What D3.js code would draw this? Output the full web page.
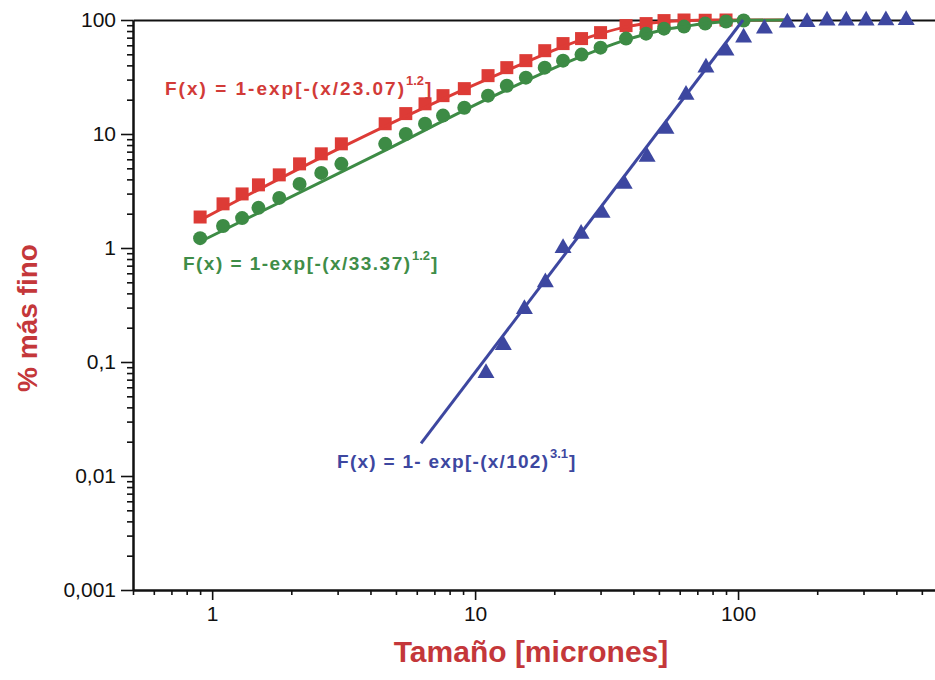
<!DOCTYPE html>
<html>
<head>
<meta charset="utf-8">
<script src="https://cdn.jsdelivr.net/npm/d3@7"></script>
<style>
body { margin: 0; background: #fff; }
text { font-family: "Liberation Sans", Arial, sans-serif; }
</style>
</head>
<body>
<script>
// tick labels
var xTickValues = [1, 10, 100];
var xTickLabels = ["1", "10", "100"];
var yTickValues = [0.001, 0.01, 0.1, 1, 10, 100];
var yTickLabels = ["0,001", "0,01", "0,1", "1", "10", "100"];

// red squares (x/23.07)
var redX = [0.9, 1.1, 1.3, 1.5, 1.8, 2.15, 2.6, 3.1, 4.55, 5.45, 6.45, 7.55, 9.1, 11.2, 13.2, 15.6, 18.4, 21.6, 25.4, 30, 37.5, 44.7, 52.3, 62.3, 75, 90];
var redY = [1.87, 2.44, 2.98, 3.58, 4.38, 5.47, 6.7, 8.2, 12.3, 15.1, 18.4, 21.7, 25, 32.5, 38.2, 44, 53.8, 62.1, 68.7, 77.5, 89.3, 93, 98.8, 100, 99.5, 100];
var redFitX = [0.89, 3.09, 11.2, 30, 37.5, 45, 55, 70, 90, 150];
var redFitY = [1.73, 7.6, 30.5, 76, 87, 93, 97.5, 99.5, 100, 100];

// green circles (x/33.37)
var greenX = [0.9, 1.1, 1.3, 1.5, 1.8, 2.15, 2.6, 3.1, 4.55, 5.45, 6.45, 7.55, 9.1, 11.2, 13.2, 15.6, 18.4, 21.6, 25.4, 30, 37.5, 44.7, 52.3, 62.3, 75, 90, 105];
var greenY = [1.22, 1.56, 1.83, 2.25, 2.75, 3.65, 4.56, 5.47, 8.2, 10, 12.3, 14.5, 17, 21.7, 26.5, 31.2, 38.2, 44, 49.7, 57.2, 68.7, 75.9, 84, 87.5, 93, 97, 99];
var greenFitX = [0.91, 4.67, 11.2, 25.4, 37.5, 44.7, 52.3, 62.3, 75, 90, 105, 150];
var greenFitY = [1.15, 7.4, 20.4, 48, 67, 75, 82, 87.5, 93, 97, 99.5, 100];

// blue triangles (x/102)
var blueX = [11, 12.8, 15.4, 18.5, 21.6, 25.3, 30.4, 36.9, 45.1, 53.2, 63.4, 75.5, 90, 105, 126, 154, 183, 218, 258, 307, 365, 436];
var blueY = [0.08, 0.141, 0.291, 0.5, 1, 1.33, 2.03, 3.65, 6.3, 11.1, 22.1, 38.2, 53.8, 70, 84, 95, 96, 99, 99, 99, 99.5, 100];
var blueFitX = [6.23, 104.5];
var blueFitY = [0.0193, 100];

var W = 935, H = 680;
var svg = d3.select("body").append("svg")
    .attr("width", W).attr("height", H);

var x = d3.scaleLog().domain([0.5, 1000]).range([133, 1001]);
var y = d3.scaleLog().domain([0.001, 100]).range([590, 20]);

function pts(xs, ys) { return xs.map(function(d, i) { return [d, ys[i]]; }); }

var line = d3.line()
    .x(function(d) { return x(d[0]); })
    .y(function(d) { return y(d[1]); })
    .curve(d3.curveMonotoneX);

// axes
var xMinor = x.ticks().filter(function(d) { return xTickValues.indexOf(d) < 0; });
var yMinor = y.ticks().filter(function(d) { return yTickValues.map(String).indexOf(String(d)) < 0; });

svg.append("g").attr("transform", "translate(0,590)")
    .call(d3.axisBottom(x).tickValues(xTickValues).tickSize(10).tickSizeOuter(0).tickPadding(6)
        .tickFormat(function(d, i) { return xTickLabels[i]; }));
svg.append("g").attr("transform", "translate(0,590)")
    .call(d3.axisBottom(x).tickValues(xMinor).tickSize(5).tickSizeOuter(0).tickFormat(""));

svg.append("g").attr("transform", "translate(133,0)")
    .call(d3.axisLeft(y).tickValues(yTickValues).tickSize(12).tickSizeOuter(0).tickPadding(5)
        .tickFormat(function(d, i) { return yTickLabels[i]; }));
svg.append("g").attr("transform", "translate(133,0)")
    .call(d3.axisLeft(y).tickValues(yMinor).tickSize(6).tickSizeOuter(0).tickFormat(""));

svg.append("g").attr("transform", "translate(0,20)")
    .call(d3.axisTop(x).tickValues([]).tickSizeOuter(0));

svg.selectAll(".domain").attr("stroke", "#111").attr("stroke-width", 2);
svg.selectAll(".tick line").attr("stroke", "#111").attr("stroke-width", 1.6);
svg.selectAll(".tick text").attr("font-size", 21).attr("fill", "#111")
    .style("font-family", "'Liberation Sans', Arial, sans-serif");

// series
var redC = "#dd3b36", greenC = "#3d8b45", blueC = "#3d47a0";

svg.append("g").selectAll("rect").data(pts(redX, redY)).enter().append("rect")
    .attr("x", function(d) { return x(d[0]) - 6.5; })
    .attr("y", function(d) { return y(d[1]) - 6.5; })
    .attr("width", 13).attr("height", 13).attr("fill", redC);
svg.append("path").datum(pts(redFitX, redFitY)).attr("d", line)
    .attr("fill", "none").attr("stroke", redC).attr("stroke-width", 3);

svg.append("g").selectAll("circle").data(pts(greenX, greenY)).enter().append("circle")
    .attr("cx", function(d) { return x(d[0]); })
    .attr("cy", function(d) { return y(d[1]); })
    .attr("r", 7).attr("fill", greenC);
svg.append("path").datum(pts(greenFitX, greenFitY)).attr("d", line)
    .attr("fill", "none").attr("stroke", greenC).attr("stroke-width", 3);

var tri = d3.symbol().type(d3.symbolTriangle).size(125);
svg.append("g").selectAll("path").data(pts(blueX, blueY)).enter().append("path")
    .attr("d", tri)
    .attr("transform", function(d) { return "translate(" + x(d[0]) + "," + y(d[1]) + ")"; })
    .attr("fill", blueC);
svg.append("path").datum(pts(blueFitX, blueFitY)).attr("d", line)
    .attr("fill", "none").attr("stroke", blueC).attr("stroke-width", 3);

// formula labels
function formula(px, py, main, sup, len, color) {
    var g = svg.append("g").attr("fill", color).attr("font-weight", "bold");
    g.append("text").attr("x", px).attr("y", py).attr("font-size", 19)
        .attr("textLength", len).attr("lengthAdjust", "spacing").text(main);
    g.append("text").attr("x", px + len + 2).attr("y", py - 10).attr("font-size", 13).text(sup);
    g.append("text").attr("x", px + len + 21).attr("y", py).attr("font-size", 19).text("]");
}
formula(165, 95, "F(x) = 1-exp[-(x/23.07)", "1.2", 239, "#d23b38");
formula(183, 270, "F(x) = 1-exp[-(x/33.37)", "1.2", 227, "#3f8d48");
formula(337, 468, "F(x) = 1- exp[-(x/102)", "3.1", 211, "#3d47a0");

// axis titles
svg.append("text")
    .attr("transform", "translate(37,318) rotate(-90)")
    .attr("text-anchor", "middle").attr("font-size", 28).attr("font-weight", "bold")
    .attr("fill", "#c4373a").text("% más fino");
svg.append("text")
    .attr("x", 531).attr("y", 662)
    .attr("text-anchor", "middle").attr("font-size", 30).attr("font-weight", "bold")
    .attr("fill", "#c4373a").text("Tamaño [micrones]");
</script>
</body>
</html>
